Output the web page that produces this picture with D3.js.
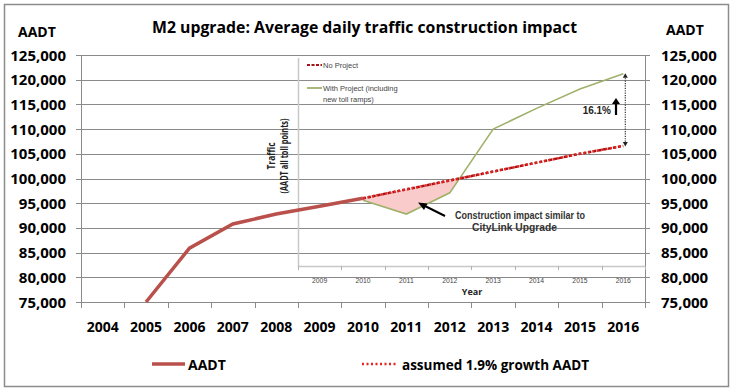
<!DOCTYPE html>
<html lang="en">
<head>
<meta charset="utf-8">
<script src="https://d3js.org/d3.v7.min.js"></script>
<style>
  body { margin: 0; background: #fff; }
  text { font-family: "Open Sans", sans-serif; }
  .big { font-weight: bold; fill: #000; }
  .small { font-family: "Liberation Sans", Arial, sans-serif; fill: #444; }
</style>
</head>
<body>
<div id="chart"></div>
<script>

// main chart data
var years = ["2004","2005","2006","2007","2008","2009","2010","2011","2012","2013","2014","2015","2016"];
var aadt = [null, 75000, 85900, 90800, 92800, 94400, 96000, null, null, null, null, null, null];
var growth = [null, null, null, null, null, null, 96000, 97800, 99600, 101400, 103200, 105000, 106600];
var yTicks = [75000, 80000, 85000, 90000, 95000, 100000, 105000, 110000, 115000, 120000, 125000];

// inset chart data (overlaid picture)
var insetYears = ["2009","2010","2011","2012","2013","2014","2015","2016"];
var noProject = [null, 96000, 97800, 99600, 101400, 103200, 105000, 106600];
var withProject = [null, 95600, 92800, 97100, 110000, 114200, 118100, 121200];

var W = 734, H = 391;
var svg = d3.select('#chart').append('svg').attr('width', W).attr('height', H);

// border
svg.append('rect').attr('x', 4.5).attr('y', 4.5).attr('width', 724).attr('height', 382)
  .attr('fill', 'white').attr('stroke', '#8c8c8c').attr('stroke-width', 1.5);

var x = d3.scaleBand().domain(years).range([81, 645]);
var y = d3.scaleLinear().domain([75000, 125000]).range([302, 55]);
function cx(d) { return x(d) + x.bandwidth() / 2; }

// gridlines + tick marks
svg.append('g').selectAll('line').data(yTicks).enter().append('line')
  .attr('x1', 76).attr('x2', 650)
  .attr('y1', function(d){ return Math.round(y(d)) + 0.5; })
  .attr('y2', function(d){ return Math.round(y(d)) + 0.5; })
  .attr('stroke', '#8a8a8a').attr('stroke-width', 1);

// y axes lines
svg.append('line').attr('x1', 81.5).attr('x2', 81.5).attr('y1', y(125000)).attr('y2', y(75000))
  .attr('stroke', '#8a8a8a');
svg.append('line').attr('x1', 645.5).attr('x2', 645.5).attr('y1', y(125000)).attr('y2', y(75000))
  .attr('stroke', '#8a8a8a');

var fmt = d3.format(',');
svg.append('g').selectAll('text').data(yTicks).enter().append('text').attr('class', 'big')
  .attr('x', 66).attr('y', function(d){ return y(d) + 5.5; })
  .attr('text-anchor', 'end').style('font-size', '15px')
  .text(function(d){ return fmt(d); });
svg.append('g').selectAll('text').data(yTicks).enter().append('text').attr('class', 'big')
  .attr('x', 661).attr('y', function(d){ return y(d) + 5.5; })
  .style('font-size', '15px')
  .text(function(d){ return fmt(d); });

svg.append('text').attr('class', 'big').attr('x', 18).attr('y', 37).style('font-size', '14px').text('AADT');
svg.append('text').attr('class', 'big').attr('x', 666).attr('y', 35).style('font-size', '14px').text('AADT');

// title
svg.append('text').attr('class', 'big').attr('x', 152).attr('y', 33)
  .style('font-size', '16px').attr('textLength', 425).attr('lengthAdjust', 'spacingAndGlyphs')
  .text('M2 upgrade: Average daily traffic construction impact');

// x axis ticks (at category boundaries)
var bounds = years.map(function(d){ return x(d); }).concat([x.range()[1]]);
svg.append('g').selectAll('line').data(bounds).enter().append('line')
  .attr('x1', function(d){ return Math.round(d) + 0.5; })
  .attr('x2', function(d){ return Math.round(d) + 0.5; })
  .attr('y1', 302).attr('y2', 308).attr('stroke', '#8a8a8a');
svg.append('g').selectAll('text').data(years).enter().append('text').attr('class', 'big')
  .attr('x', cx).attr('y', 332).attr('text-anchor', 'middle').style('font-size', '14px')
  .text(function(d){ return d; });

// ---- inset chart (drawn on the same year scale) ----
var inset = svg.append('g');
inset.append('line').attr('x1', 298.5).attr('x2', 298.5).attr('y1', 58).attr('y2', 267)
  .attr('stroke', '#c8c8c8').attr('stroke-width', 1.5);
inset.append('line').attr('x1', 298).attr('x2', 645).attr('y1', 266.5).attr('y2', 266.5)
  .attr('stroke', '#c8c8c8').attr('stroke-width', 1.5);
var insetBounds = insetYears.map(function(d){ return x(d); }).concat([x.range()[1]]);
inset.selectAll('.itick').data(insetBounds).enter().append('line').attr('class', 'itick')
  .attr('x1', function(d){ return Math.round(d) + 0.5; })
  .attr('x2', function(d){ return Math.round(d) + 0.5; })
  .attr('y1', 266).attr('y2', 270).attr('stroke', '#b0b0b0');
inset.selectAll('.ilab').data(insetYears).enter().append('text').attr('class', 'small ilab')
  .attr('x', cx).attr('y', 283).attr('text-anchor', 'middle').style('font-size', '6.8px')
  .text(function(d){ return d; });
inset.append('text').attr('x', 472).attr('y', 295).attr('text-anchor', 'middle')
  .style('font-size', '9px').style('font-weight', 'bold').attr('fill', '#222').text('Year');
var yl = inset.append('g').attr('transform', 'translate(278,156) rotate(-90)');
yl.append('text').attr('x', 0).attr('y', -3).attr('text-anchor', 'middle')
  .style('font-size', '10px').style('font-weight', 'bold').attr('fill', '#222')
  .attr('textLength', 27).attr('lengthAdjust', 'spacingAndGlyphs').text('Traffic');
yl.append('text').attr('x', 0).attr('y', 9.5).attr('text-anchor', 'middle')
  .style('font-size', '10px').style('font-weight', 'bold').attr('fill', '#222')
  .attr('textLength', 75).attr('lengthAdjust', 'spacingAndGlyphs').text('(AADT all toll points)');

// inset legend
inset.append('line').attr('x1', 307).attr('x2', 322).attr('y1', 65).attr('y2', 65)
  .attr('stroke', '#a0141a').attr('stroke-width', 2).attr('stroke-dasharray', '3,1.5');
inset.append('text').attr('class', 'small').attr('x', 323).attr('y', 68).style('font-size', '7.5px').text('No Project');
inset.append('line').attr('x1', 307).attr('x2', 322).attr('y1', 88).attr('y2', 88)
  .attr('stroke', '#9fb16a').attr('stroke-width', 1.8);
inset.append('text').attr('class', 'small').attr('x', 323).attr('y', 91).style('font-size', '7.5px').text('With Project (including');
inset.append('text').attr('class', 'small').attr('x', 323).attr('y', 102).style('font-size', '7.5px').text('new toll ramps)');

// pink construction-impact area: where with project is below no project
var pts = [];
for (var i = 1; i < insetYears.length - 1; i++) {
  var a0 = noProject[i], b0 = withProject[i], a1 = noProject[i+1], b1 = withProject[i+1];
  if (b0 <= a0) {
    pts.push([cx(insetYears[i]), a0, b0]);
    if (b1 > a1) {
      var t = (a0 - b0) / ((a0 - b0) - (a1 - b1));
      var xm = cx(insetYears[i]) + t * (cx(insetYears[i+1]) - cx(insetYears[i]));
      var vm = a0 + t * (a1 - a0);
      pts.push([xm, vm, vm]);
      break;
    }
  }
}
inset.append('path').datum(pts)
  .attr('d', d3.area().x(function(d){ return d[0]; }).y0(function(d){ return y(d[2]); }).y1(function(d){ return y(d[1]); }))
  .attr('fill', '#f9cccb').attr('stroke', 'none');

// with project line
var insetLine = d3.line().defined(function(d){ return d[1] != null; })
  .x(function(d){ return cx(d[0]); }).y(function(d){ return y(d[1]); });
inset.append('path').datum(insetYears.map(function(d, i){ return [d, withProject[i]]; }))
  .attr('d', insetLine).attr('fill', 'none').attr('stroke', '#9fb16a').attr('stroke-width', 1.6);
// no project dashed
inset.append('path').datum(insetYears.map(function(d, i){ return [d, noProject[i]]; }))
  .attr('d', insetLine).attr('fill', 'none').attr('stroke', '#a0141a').attr('stroke-width', 2.5)
  .attr('stroke-dasharray', '3,2');

// annotations
var arrowX = cx('2016') + 2;
var yw = y(withProject[7]), yn = y(noProject[7]);
inset.append('line').attr('x1', arrowX).attr('x2', arrowX).attr('y1', yw + 2).attr('y2', yn - 2)
  .attr('stroke', '#333').attr('stroke-width', 1.2).attr('stroke-dasharray', '1.2,1.2');
inset.append('path').attr('d', 'M' + (arrowX - 2.5) + ',' + (yw + 4) + 'L' + arrowX + ',' + (yw - 0.5) + 'L' + (arrowX + 2.5) + ',' + (yw + 4) + 'Z').attr('fill', '#222');
inset.append('path').attr('d', 'M' + (arrowX - 2.5) + ',' + (yn - 4) + 'L' + arrowX + ',' + (yn + 0.5) + 'L' + (arrowX + 2.5) + ',' + (yn - 4) + 'Z').attr('fill', '#222');
inset.append('text').attr('x', 611).attr('y', 114).attr('text-anchor', 'end')
  .style('font-family', '"Liberation Sans", Arial, sans-serif').style('font-size', '10px').style('font-weight', 'bold')
  .attr('fill', '#222').text('16.1%');
inset.append('line').attr('x1', 616).attr('x2', 616).attr('y1', 103).attr('y2', 115)
  .attr('stroke', '#000').attr('stroke-width', 2.2);
inset.append('path').attr('d', 'M612,104L616,98L620,104Z').attr('fill', '#000');

inset.append('line').attr('x1', 445).attr('x2', 423).attr('y1', 216).attr('y2', 205)
  .attr('stroke', '#000').attr('stroke-width', 2);
inset.append('path').attr('d', 'M418,202.5L427.5,203.5L424,210Z').attr('fill', '#000');
inset.append('text').attr('x', 455).attr('y', 219)
  .style('font-family', '"Liberation Sans", Arial, sans-serif')
  .style('font-size', '10.5px').style('font-weight', 'bold').attr('fill', '#333')
  .attr('textLength', 130).attr('lengthAdjust', 'spacingAndGlyphs')
  .text('Construction impact similar to');
inset.append('text').attr('x', 472).attr('y', 231)
  .style('font-family', '"Liberation Sans", Arial, sans-serif')
  .style('font-size', '10.5px').style('font-weight', 'bold').attr('fill', '#333')
  .attr('textLength', 85).attr('lengthAdjust', 'spacingAndGlyphs')
  .text('CityLink Upgrade');

// ---- main series ----
var mainLine = d3.line().defined(function(d){ return d[1] != null; })
  .x(function(d){ return cx(d[0]); }).y(function(d){ return y(d[1]); });
svg.append('path').datum(years.map(function(d, i){ return [d, aadt[i]]; }))
  .attr('d', mainLine).attr('fill', 'none').attr('stroke', '#b9504b').attr('stroke-width', 3.5);
svg.append('path').datum(years.map(function(d, i){ return [d, growth[i]]; }))
  .attr('d', mainLine).attr('fill', 'none').attr('stroke', '#e8231d').attr('stroke-width', 2.5)
  .attr('stroke-dasharray', '2,2.5');

// legend
svg.append('line').attr('x1', 152).attr('x2', 185).attr('y1', 364).attr('y2', 364)
  .attr('stroke', '#b9504b').attr('stroke-width', 3.5);
svg.append('text').attr('class', 'big').attr('x', 188).attr('y', 370).style('font-size', '14px').text('AADT');
svg.append('line').attr('x1', 362).attr('x2', 398).attr('y1', 364).attr('y2', 364)
  .attr('stroke', '#e8231d').attr('stroke-width', 2.5).attr('stroke-dasharray', '2,2.5');
svg.append('text').attr('class', 'big').attr('x', 402).attr('y', 370).style('font-size', '13.5px').text('assumed 1.9% growth AADT');

</script>
</body>
</html>
